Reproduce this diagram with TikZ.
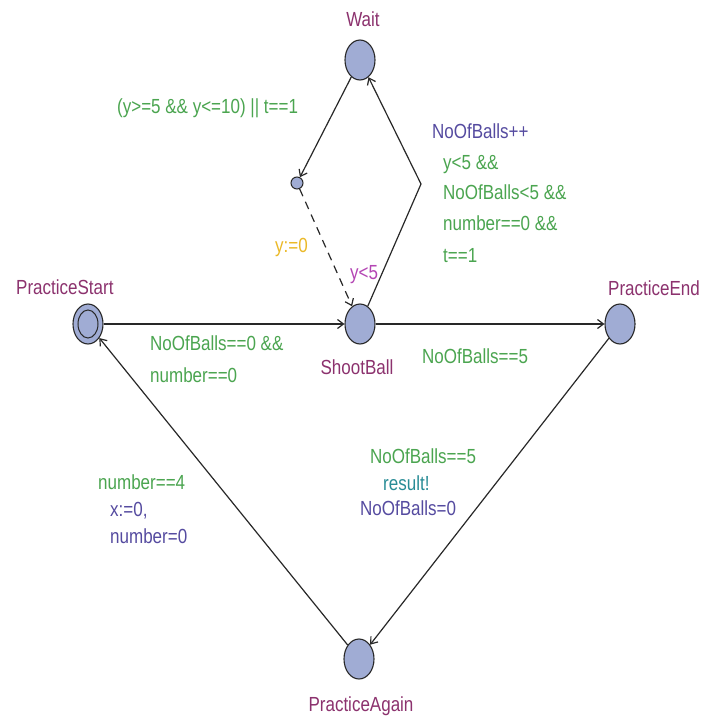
\documentclass[tikz,border=0pt]{standalone}
\usepackage{fontspec}
\setmainfont{Liberation Sans}
\usepackage{graphicx}
\usetikzlibrary{shapes.geometric,arrows.meta}
\definecolor{locname}{RGB}{140,50,110}
\definecolor{guardc}{RGB}{75,165,80}
\definecolor{updc}{RGB}{85,75,160}
\definecolor{syncc}{RGB}{40,140,150}
\definecolor{selc}{RGB}{235,185,40}
\definecolor{invc}{RGB}{180,70,180}
\definecolor{locfill}{RGB}{160,172,212}
\definecolor{edgec}{RGB}{40,40,40}
\newcommand{\stx}[1]{\scalebox{1}[1.2]{#1}}
\begin{document}
\begin{tikzpicture}[x=1pt,y=-1pt,
  loc/.style={ellipse,draw=edgec,line width=1.1pt,fill=locfill,minimum width=30pt,minimum height=40pt,inner sep=0pt},
  smallloc/.style={circle,draw=edgec,line width=1pt,fill=locfill,minimum size=12pt,inner sep=0pt},
  txt/.style={inner sep=0pt,font=\fontsize{17}{20}\selectfont},
  nm/.style={txt,text=locname},
  gd/.style={txt,text=guardc},
  up/.style={txt,text=updc},
  edge/.style={draw=edgec,line width=1.2pt,-{Straight Barb[length=6pt,width=9pt]}}
]
\useasboundingbox (0,0) rectangle (704,718);
\fill[white] (0,0) rectangle (704,718);
% locations
\node[loc] (wait) at (360,60) {};
\node[smallloc] (mid) at (297,183) {};
\node[loc] (shoot) at (360,324) {};
\node[loc] (start) at (88,324) {};
\draw[edgec,line width=1pt,fill=locfill] (start.center) ellipse (10pt and 14pt);
\node[loc] (pend) at (620,324) {};
\node[loc] (again) at (359,659) {};
\coordinate (bend) at (421,184);
% edges
\draw[edge] (wait) -- (mid);
\draw[edge,dash pattern=on 8pt off 6pt] (mid) -- (shoot);
\draw[edge] (shoot) -- (bend) -- (wait);
\draw[edge] (start) -- (shoot);
\draw[edge] (shoot) -- (pend);
\draw[edge] (pend) -- (again);
\draw[edge] (again) -- (start);
% names
\node[nm,anchor=base] (nwait) at (363,26) {\stx{Wait}};
\node[nm,anchor=base west] (nstart) at (16,294) {\stx{PracticeStart}};
\node[nm,anchor=base] (nshoot) at (357,374) {\stx{ShootBall}};
\node[nm,anchor=base west] (npend) at (608,295) {\stx{PracticeEnd}};
\node[nm,anchor=base] (nagain) at (361,711) {\stx{PracticeAgain}};
% labels
\node[gd,anchor=base west] (g1) at (117,113) {\stx{(y>=5 \&\& y<=10) || t==1}};
\node[txt,text=selc,anchor=base west] (u1) at (275,252) {\stx{y:=0}};
\node[txt,text=invc,anchor=base west] (inv) at (350,279) {\stx{y<5}};
\node[up,anchor=base west] (u2) at (432,138) {\stx{NoOfBalls++}};
\node[gd,anchor=base west] (g2a) at (443,169) {\stx{y<5 \&\&}};
\node[gd,anchor=base west] (g2b) at (443,199) {\stx{NoOfBalls<5 \&\&}};
\node[gd,anchor=base west] (g2c) at (443,230) {\stx{number==0 \&\&}};
\node[gd,anchor=base west] (g2d) at (443,262) {\stx{t==1}};
\node[gd,anchor=base west] (g3a) at (150,350) {\stx{NoOfBalls==0 \&\&}};
\node[gd,anchor=base west] (g3b) at (150,382) {\stx{number==0}};
\node[gd,anchor=base west] (g4) at (422,363) {\stx{NoOfBalls==5}};
\node[gd,anchor=base west] (g5) at (370,463) {\stx{NoOfBalls==5}};
\node[txt,text=syncc,anchor=base west] (s5) at (383,490) {\stx{result!}};
\node[up,anchor=base west] (u5) at (360,515) {\stx{NoOfBalls=0}};
\node[gd,anchor=base west] (g6) at (98,489) {\stx{number==4}};
\node[up,anchor=base west] (u6a) at (110,516) {\stx{x:=0,}};
\node[up,anchor=base west] (u6b) at (110,543) {\stx{number=0}};
\end{tikzpicture}
\end{document}
